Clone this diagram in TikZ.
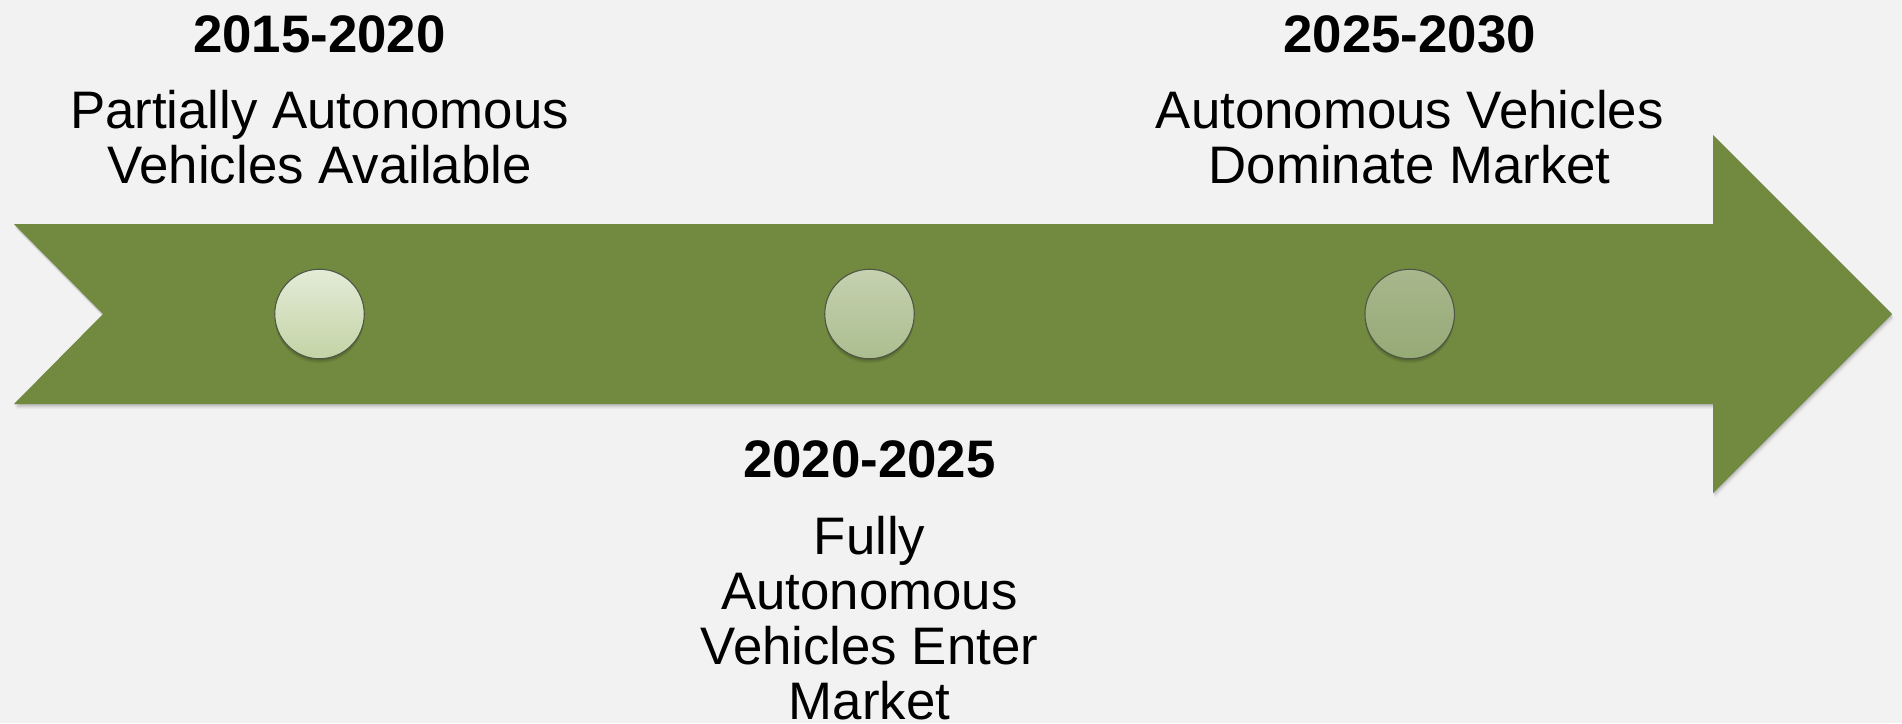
\documentclass[tikz,border=0pt]{standalone}
\usepackage{fontspec}
\setmainfont{Liberation Sans}
\begin{document}
\begin{tikzpicture}[x=1pt,y=-1pt,
  timeline/.style={fill=olivebar},
  shade/.style={fill=black},
  milestone/.style={circle,minimum size=89.5pt,inner sep=0pt,draw=rimgray,line width=1.1pt},
  period/.style={anchor=base,inner sep=0pt,font=\fontsize{52.8}{54.7}\selectfont\bfseries},
  caption/.style={anchor=base,inner sep=0pt,align=center,font=\fontsize{52.8}{54.7}\selectfont}]
\definecolor{pagebg}{RGB}{242,242,242}
\definecolor{olivebar}{RGB}{113,138,64}
\definecolor{rimgray}{RGB}{80,86,70}
% page
\fill[pagebg] (0,0) rectangle (1902,723);
\useasboundingbox (0,0) rectangle (1902,723);
% soft shadow under the timeline arrow
\foreach \d/\o in {1/0.07,2/0.06,3/0.05,4/0.04,5/0.03}
  \fill[shade,opacity=\o,shift={(0.4*\d,\d)}]
    (14,224) -- (1713,224) -- (1713,135) -- (1892,314) -- (1713,493)
    -- (1713,404) -- (14,404) -- (103,314) -- cycle;
% the timeline arrow
\fill[timeline] (14,224) -- (1713,224) -- (1713,135) -- (1892,314) -- (1713,493)
  -- (1713,404) -- (14,404) -- (103,314) -- cycle;
% milestone centres
\coordinate (p1) at (319.5,314);
\coordinate (p2) at (869.5,314);
\coordinate (p3) at (1409.7,314);
% soft shadows under the milestones
\foreach \p in {p1,p2,p3}
  \foreach \d/\o in {1/0.08,2/0.07,3/0.06,4/0.05,5/0.04}
    \fill[shade,opacity=\o] ([yshift=-\d pt]\p) circle (44.5);
% milestones
\node[milestone,top color={rgb,255:red,228;green,235;blue,216},bottom color={rgb,255:red,195;green,212;blue,165}] (c1) at (p1) {};
\node[milestone,top color={rgb,255:red,197;green,209;blue,176},bottom color={rgb,255:red,172;green,190;blue,143}] (c2) at (p2) {};
\node[milestone,top color={rgb,255:red,168;green,183;blue,140},bottom color={rgb,255:red,150;green,170;blue,118}] (c3) at (p3) {};
% labels (a multi-line caption sits on the baseline of its last line)
\node[period] (y1) at (319.5,52.3) {2015-2020};
\node[caption] (t1) at (319.5,183.3) {Partially Autonomous\\Vehicles Available};
\node[period] (y2) at (869.5,477.3) {2020-2025};
\node[caption] (t2) at (869.5,719) {Fully\\Autonomous\\Vehicles Enter\\Market};
\node[period] (y3) at (1409.7,52.3) {2025-2030};
\node[caption] (t3) at (1409.7,183.3) {Autonomous Vehicles\\Dominate Market};
\end{tikzpicture}
\end{document}
